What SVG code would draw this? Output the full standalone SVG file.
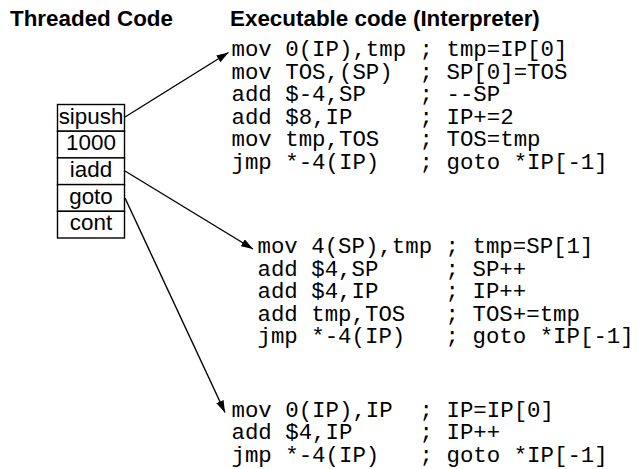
<svg xmlns="http://www.w3.org/2000/svg" width="639" height="469" viewBox="0 0 639 469">
<style>
.hdr{font-family:"Liberation Sans",Arial,sans-serif;font-weight:bold;font-size:22.4px;fill:#000}
.cell{fill:#fff;stroke:#000;stroke-width:1.4}
.lbl{font-family:"Liberation Sans",Arial,sans-serif;font-size:22.4px;fill:#000;text-anchor:middle}
.code{font-family:"Liberation Mono","Courier New",monospace;font-size:22.4px;fill:#000;white-space:pre}
.conn{stroke:#000;stroke-width:1.4;fill:none;marker-end:url(#ah)}
</style>
<defs>
<marker id="ah" viewBox="0 0 12 8" refX="12" refY="4" markerWidth="12" markerHeight="8" markerUnits="userSpaceOnUse" orient="auto">
<path d="M0,0 L12,4 L0,8 Z" fill="#000"/>
</marker>
</defs>
<g id="headers">
<text class="hdr" x="10" y="26">Threaded Code</text>
<text class="hdr" x="230" y="26">Executable code (Interpreter)</text>
</g>
<g id="threaded-code">
<rect class="cell" x="57.5" y="104.5" width="67" height="26.7"/>
<rect class="cell" x="57.5" y="131.2" width="67" height="26.7"/>
<rect class="cell" x="57.5" y="157.9" width="67" height="26.7"/>
<rect class="cell" x="57.5" y="184.6" width="67" height="26.7"/>
<rect class="cell" x="57.5" y="211.3" width="67" height="26.7"/>
<text class="lbl" x="91" y="123.5">sipush</text>
<text class="lbl" x="91" y="150.2">1000</text>
<text class="lbl" x="91" y="176.9">iadd</text>
<text class="lbl" x="91" y="203.6">goto</text>
<text class="lbl" x="91" y="230.3">cont</text>
</g>
<g id="code-sipush">
<text class="code" xml:space="preserve"><tspan x="231.5" y="56">mov 0(IP),tmp ; tmp=IP[0]</tspan><tspan x="231.5" y="78.5">mov TOS,(SP)  ; SP[0]=TOS</tspan><tspan x="231.5" y="101">add $-4,SP    ; --SP</tspan><tspan x="231.5" y="123.5">add $8,IP     ; IP+=2</tspan><tspan x="231.5" y="146">mov tmp,TOS   ; TOS=tmp</tspan><tspan x="231.5" y="168.5">jmp *-4(IP)   ; goto *IP[-1]</tspan></text>
</g>
<g id="code-iadd">
<text class="code" xml:space="preserve"><tspan x="257.5" y="253">mov 4(SP),tmp ; tmp=SP[1]</tspan><tspan x="257.5" y="275.5">add $4,SP     ; SP++</tspan><tspan x="257.5" y="298">add $4,IP     ; IP++</tspan><tspan x="257.5" y="320.5">add tmp,TOS   ; TOS+=tmp</tspan><tspan x="257.5" y="343">jmp *-4(IP)   ; goto *IP[-1]</tspan></text>
</g>
<g id="code-goto">
<text class="code" xml:space="preserve"><tspan x="231.5" y="416.5">mov 0(IP),IP  ; IP=IP[0]</tspan><tspan x="231.5" y="439">add $4,IP     ; IP++</tspan><tspan x="231.5" y="461.5">jmp *-4(IP)   ; goto *IP[-1]</tspan></text>
</g>
<g id="connectors">
<line class="conn" x1="125" y1="117" x2="228.5" y2="52.5"/>
<line class="conn" x1="125" y1="171" x2="253" y2="249"/>
<line class="conn" x1="125" y1="198" x2="225" y2="412.5"/>
</g>
</svg>
